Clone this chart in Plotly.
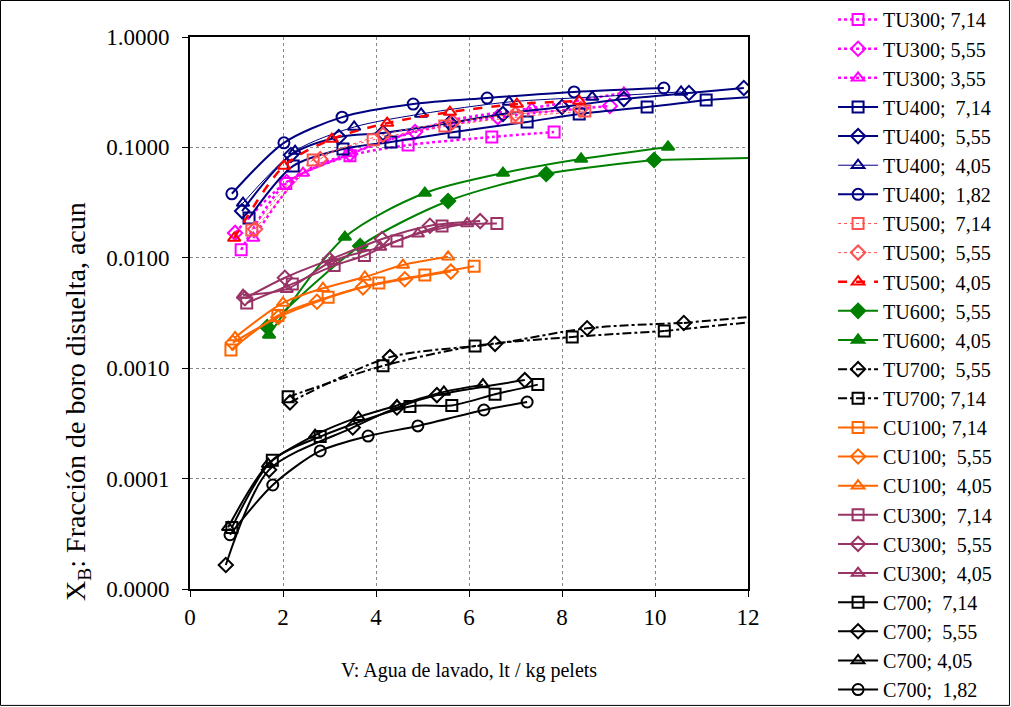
import plotly.graph_objects as go

# ---------------- data ----------------
tu300_714_x = [1.10, 2.06, 3.44, 4.69, 6.49, 7.83]
tu300_714_y = [0.0118, 0.047, 0.084, 0.105, 0.124, 0.138]
tu300_555_x = [0.97, 2.08, 3.44, 4.84, 6.62, 9.03]
tu300_555_y = [0.0168, 0.0486, 0.087, 0.138, 0.188, 0.237]
tu300_355_x = [1.36, 2.43, 3.43, 5.60, 7.35, 9.33]
tu300_355_y = [0.0151, 0.0586, 0.088, 0.175, 0.227, 0.311]

tu400_714_x = [1.27, 2.22, 3.29, 4.32, 5.68, 7.25, 8.37, 9.83, 11.10]
tu400_714_y = [0.0229, 0.068, 0.0968, 0.112, 0.138, 0.170, 0.201, 0.232, 0.269]
tu400_555_x = [1.12, 2.17, 3.20, 4.15, 5.59, 6.73, 8.00, 9.33, 10.73, 11.91]
tu400_555_y = [0.0265, 0.0853, 0.124, 0.135, 0.166, 0.201, 0.232, 0.274, 0.311, 0.345]
tu400_405_x = [1.14, 2.26, 3.53, 4.97, 6.86, 8.65, 10.56]
tu400_405_y = [0.0313, 0.0927, 0.153, 0.201, 0.258, 0.286, 0.318]
tu400_182_x = [0.90, 2.02, 3.27, 4.80, 6.39, 8.26, 10.19]
tu400_182_y = [0.038, 0.110, 0.188, 0.247, 0.280, 0.318, 0.345]

tu500_714_x = [1.33, 2.65, 3.94, 5.48, 7.03, 8.49]
tu500_714_y = [0.0179, 0.077, 0.117, 0.156, 0.188, 0.214]
tu500_555_x = [1.40, 2.80, 4.15, 5.65, 7.00, 8.40]
tu500_555_y = [0.0182, 0.0785, 0.130, 0.170, 0.200, 0.222]
tu500_405_x = [0.95, 2.02, 3.05, 4.24, 5.59, 7.03, 8.37]
tu500_405_y = [0.0151, 0.068, 0.119, 0.166, 0.209, 0.247, 0.263]

tu600_555_x = [1.66, 3.66, 5.55, 7.66, 9.98]
tu600_555_y = [0.00236, 0.0128, 0.0327, 0.0574, 0.0769]
tu600_405_x = [1.70, 3.33, 5.05, 6.73, 8.41, 10.28]
tu600_405_y = [0.0020, 0.0154, 0.0386, 0.0586, 0.0785, 0.101]

tu700_555_x = [2.15, 4.30, 6.56, 8.54, 10.62]
tu700_555_y = [0.00049, 0.00126, 0.00166, 0.0023, 0.00257]
tu700_714_x = [2.11, 4.15, 6.13, 8.22, 10.20]
tu700_714_y = [0.00055, 0.00105, 0.00159, 0.00192, 0.00217]

cu100_714_x = [0.88, 1.89, 2.97, 4.06, 5.05, 6.11]
cu100_714_y = [0.00146, 0.0030, 0.0044, 0.0059, 0.0070, 0.0084]
cu100_555_x = [0.92, 1.90, 2.73, 3.72, 4.62, 5.61]
cu100_555_y = [0.0017, 0.0029, 0.0040, 0.0054, 0.0064, 0.0075]
cu100_405_x = [0.97, 2.00, 2.86, 3.76, 4.58, 5.55]
cu100_405_y = [0.0019, 0.0039, 0.0053, 0.0067, 0.0086, 0.0102]

cu300_714_x = [1.22, 2.20, 3.10, 3.75, 4.45, 5.42, 6.60]
cu300_714_y = [0.0039, 0.0058, 0.0085, 0.0105, 0.0142, 0.0194, 0.0205]
cu300_555_x = [1.18, 2.04, 3.00, 4.13, 5.16, 6.24]
cu300_555_y = [0.0043, 0.0066, 0.0096, 0.0148, 0.0195, 0.0215]
cu300_405_x = [1.14, 2.08, 3.05, 4.09, 4.90, 5.96]
cu300_405_y = [0.0046, 0.0052, 0.0093, 0.0125, 0.0165, 0.0205]

c700_714_x = [0.90, 1.77, 2.80, 4.73, 5.63, 6.56, 7.48]
c700_714_y = [0.000036, 0.000147, 0.00024, 0.00045, 0.00046, 0.00058, 0.00071]
c700_555_x = [0.77, 1.70, 3.50, 4.45, 5.31, 7.20]
c700_555_y = [0.0000165, 0.00012, 0.00029, 0.00044, 0.00057, 0.00078]
c700_405_x = [0.82, 1.68, 2.69, 3.62, 4.45, 5.46, 6.30]
c700_405_y = [0.0000362, 0.000135, 0.000248, 0.00036, 0.00046, 0.00061, 0.00071]
c700_182_x = [0.86, 1.78, 2.80, 3.83, 4.90, 6.32, 7.25]
c700_182_y = [0.000031, 0.0000875, 0.000178, 0.000243, 0.00030, 0.000418, 0.000494]

# trend-line continuations beyond the last measured point (x, y)
tu400_714_ext = ([11.10, 12.0], [0.269, 0.285])
tu600_555_ext = ([9.98, 12.0], [0.0769, 0.080])
tu700_555_ext = ([10.62, 12.0], [0.00257, 0.0029])
tu700_714_ext = ([10.20, 12.0], [0.00217, 0.0026])

y_tickvals = [1, 0.1, 0.01, 0.001, 0.0001, 0.00001]
y_ticktext = ["1.0000", "0.1000", "0.0100", "0.0010", "0.0001", "0.0000"]
x_tickvals = [0, 2, 4, 6, 8, 10, 12]
y_title = "X<sub>B</sub>: Fracción de boro disuelta, acun"
x_title = "V: Agua de lavado, lt / kg pelets"

MAG = "#FF00FF"; NAVY = "#000080"; RED = "#FF0000"; GRN = "#008000"
BLK = "#000000"; ORG = "#FF6600"; PUR = "#993366"; LRED = "#FF5050"
NB = "\u00a0"

series = [
    ("TU300; 7,14", tu300_714_x, tu300_714_y, MAG, "square-open", "dot", 2.5, None),
    ("TU300; 5,55", tu300_555_x, tu300_555_y, MAG, "diamond-open", "dot", 2.5, None),
    ("TU300; 3,55", tu300_355_x, tu300_355_y, MAG, "triangle-up-open", "dot", 2.5, None),
    (f"TU400;{NB} 7,14", tu400_714_x, tu400_714_y, NAVY, "square-open", "solid", 2, tu400_714_ext),
    (f"TU400;{NB} 5,55", tu400_555_x, tu400_555_y, NAVY, "diamond-open", "solid", 2, None),
    (f"TU400;{NB} 4,05", tu400_405_x, tu400_405_y, NAVY, "triangle-up-open", "solid", 1, None),
    (f"TU400;{NB} 1,82", tu400_182_x, tu400_182_y, NAVY, "circle-open", "solid", 2, None),
    (f"TU500;{NB} 7,14", tu500_714_x, tu500_714_y, LRED, "square-open", "dot", 1, None),
    (f"TU500;{NB} 5,55", tu500_555_x, tu500_555_y, LRED, "diamond-open", "dot", 1, None),
    (f"TU500;{NB} 4,05", tu500_405_x, tu500_405_y, RED, "triangle-up-open", "dash", 2.5, None),
    (f"TU600;{NB} 5,55", tu600_555_x, tu600_555_y, GRN, "diamond", "solid", 2, tu600_555_ext),
    (f"TU600;{NB} 4,05", tu600_405_x, tu600_405_y, GRN, "triangle-up", "solid", 2, None),
    (f"TU700;{NB} 5,55", tu700_555_x, tu700_555_y, BLK, "diamond-open", "dashdot", 2, tu700_555_ext),
    ("TU700; 7,14", tu700_714_x, tu700_714_y, BLK, "square-open", "dashdot", 2, tu700_714_ext),
    ("CU100; 7,14", cu100_714_x, cu100_714_y, ORG, "square-open", "solid", 2, None),
    (f"CU100;{NB} 5,55", cu100_555_x, cu100_555_y, ORG, "diamond-open", "solid", 2, None),
    (f"CU100;{NB} 4,05", cu100_405_x, cu100_405_y, ORG, "triangle-up-open", "solid", 2, None),
    (f"CU300;{NB} 7,14", cu300_714_x, cu300_714_y, PUR, "square-open", "solid", 2, None),
    (f"CU300;{NB} 5,55", cu300_555_x, cu300_555_y, PUR, "diamond-open", "solid", 2, None),
    (f"CU300;{NB} 4,05", cu300_405_x, cu300_405_y, PUR, "triangle-up-open", "solid", 2, None),
    (f"C700;{NB} 7,14", c700_714_x, c700_714_y, BLK, "square-open", "solid", 2, None),
    (f"C700;{NB} 5,55", c700_555_x, c700_555_y, BLK, "diamond-open", "solid", 2, None),
    ("C700; 4,05", c700_405_x, c700_405_y, BLK, "triangle-up-open", "solid", 2, None),
    (f"C700;{NB} 1,82", c700_182_x, c700_182_y, BLK, "circle-open", "solid", 2, None),
]

fig = go.Figure()
for i, (name, xs, ys, col, sym, dash, lw, ext) in enumerate(series):
    if ext is not None:
        fig.add_trace(go.Scatter(x=ext[0], y=ext[1], mode="lines", showlegend=False,
                                 line=dict(color=col, width=lw, dash=dash, shape="spline"),
                                 hoverinfo="skip"))
    fig.add_trace(go.Scatter(
        x=xs, y=ys, name=name, mode="lines+markers",
        line=dict(color=col, width=lw, dash=dash, shape="spline", smoothing=0.8),
        marker=dict(symbol=sym, size=11, color=col, line=dict(color=col, width=2)),
    ))

FONT = "Liberation Serif"
fig.update_layout(
    width=1011, height=707,
    paper_bgcolor="white", plot_bgcolor="white",
    margin=dict(l=190, r=263, t=37, b=118, autoexpand=False),
    font=dict(family=FONT, size=22, color="black"),
    showlegend=True,
    legend=dict(xref="container", yref="container", x=0.824, y=1.0,
                xanchor="left", yanchor="top",
                font=dict(family=FONT, size=20.1), tracegroupgap=0,
                bgcolor="rgba(0,0,0,0)", itemwidth=40, maxheight=760),
    xaxis=dict(range=[0, 12], tickvals=x_tickvals, showgrid=True, gridcolor="#888888",
               griddash="dot", gridwidth=1, showline=True, linecolor="black", linewidth=2,
               mirror=True, ticks="outside", ticklen=6, tickcolor="black",
               tickfont=dict(size=23),
               title=dict(text=x_title, standoff=34, font=dict(size=20)),
               zeroline=False),
    yaxis=dict(type="log", range=[-5, 0], tickvals=y_tickvals, ticktext=y_ticktext,
               showgrid=True, gridcolor="#888888", griddash="dot", gridwidth=1,
               showline=True, linecolor="black", linewidth=2, mirror=True,
               ticks="outside", ticklen=6, tickcolor="black", ticklabelstandoff=8,
               tickfont=dict(size=23)),
    annotations=[dict(text=y_title, textangle=-90, xref="paper", yref="paper",
                      x=-0.2007, y=0.3388, xanchor="center", yanchor="middle",
                      showarrow=False, font=dict(family=FONT, size=28))],
    shapes=[dict(type="rect", xref="paper", yref="paper",
                 x0=-0.3396, x1=1.4686, y0=-0.2109, y1=1.0661,
                 line=dict(color="black", width=1), fillcolor="rgba(0,0,0,0)")],
)

fig.write_html("out.html", config={"displayModeBar": False},
               post_script="document.body.style.margin='0px';document.body.style.overflow='hidden';")
